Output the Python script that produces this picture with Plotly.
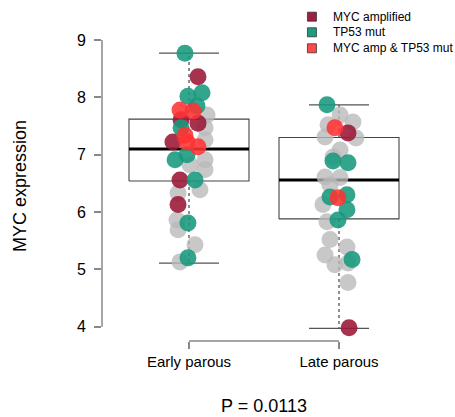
import plotly.graph_objects as go

# ---------------- data ----------------
groups = ["Early parous", "Late parous"]
group_pos = [1, 2]

q1 = [6.54, 5.88]
median = [7.10, 6.56]
q3 = [7.62, 7.30]
lower_whisker = [5.11, 3.97]
upper_whisker = [8.77, 7.87]

statuses = ["none", "MYC amplified", "TP53 mut", "MYC amp & TP53 mut"]

# Early parous samples: expression, jitter offset, status
early_y = [8.77, 8.36, 8.02, 8.08, 7.85, 7.78, 7.76, 7.69, 7.61, 7.55,
           7.47, 7.47, 7.26, 7.22, 7.34, 7.22, 7.14, 7.00, 6.91, 6.91,
           6.74, 6.82, 6.56, 6.56, 6.33, 6.39, 6.13, 5.86, 5.81, 5.69,
           5.43, 5.20, 5.13]
early_jit = [-0.027, 0.06, -0.007, 0.087, 0.053, -0.06, 0.027, 0.12, -0.053, 0.06,
             0.107, -0.053, 0.107, -0.107, -0.027, -0.013, 0.06, -0.013, -0.093, 0.107,
             0.107, 0.007, -0.06, 0.04, -0.073, 0.073, -0.073, -0.08, -0.007, -0.073,
             0.04, -0.007, -0.06]
early_status = ["TP53 mut", "MYC amplified", "TP53 mut", "TP53 mut", "TP53 mut",
                "MYC amp & TP53 mut", "MYC amp & TP53 mut", "none", "MYC amplified", "MYC amplified",
                "none", "TP53 mut", "none", "MYC amplified", "MYC amp & TP53 mut",
                "MYC amp & TP53 mut", "MYC amp & TP53 mut", "TP53 mut", "TP53 mut", "none",
                "none", "none", "MYC amplified", "TP53 mut", "none",
                "none", "MYC amplified", "none", "TP53 mut", "none",
                "none", "TP53 mut", "none"]

# Late parous samples
late_y = [7.87, 7.69, 7.57, 7.52, 7.47, 7.38, 7.31, 7.29, 7.08, 6.96,
          6.89, 6.86, 6.61, 6.60, 6.47, 6.26, 6.25, 6.30, 6.13, 6.04,
          5.86, 5.83, 5.52, 5.39, 5.25, 5.08, 5.17, 5.11, 4.77, 3.98]
late_jit = [-0.08, 0.007, 0.093, -0.073, -0.027, 0.06, -0.093, 0.113, 0.007, -0.04,
            -0.04, 0.06, -0.093, 0.007, -0.06, -0.06, -0.007, 0.053, -0.107, 0.053,
            -0.007, -0.08, -0.06, 0.053, -0.093, -0.027, 0.087, 0.06, 0.06, 0.067]
late_status = ["TP53 mut", "none", "none", "none", "MYC amp & TP53 mut",
               "MYC amplified", "none", "none", "none", "none",
               "TP53 mut", "TP53 mut", "none", "none", "none",
               "TP53 mut", "MYC amp & TP53 mut", "TP53 mut", "none", "TP53 mut",
               "TP53 mut", "none", "none", "none", "none",
               "none", "TP53 mut", "none", "none", "MYC amplified"]

y_ticks = [4, 5, 6, 7, 8, 9]
p_label = "P = 0.0113"

# ---------------- styles ----------------
colors = {
    "none": "rgba(185,185,185,0.78)",
    "MYC amplified": "rgba(155,22,52,0.88)",
    "TP53 mut": "rgba(22,152,124,0.88)",
    "MYC amp & TP53 mut": "rgba(255,50,50,0.88)",
}
legend_colors = {
    "MYC amplified": "#9E2040",
    "TP53 mut": "#1F9C80",
    "MYC amp & TP53 mut": "#FF4A4A",
}
FONT = "Liberation Sans, Arial, Helvetica, sans-serif"
BOX_HALF = 0.4
CAP_HALF = 0.2

fig = go.Figure()

# boxes
for i, pos in enumerate(group_pos):
    # box outline
    fig.add_trace(go.Scatter(
        x=[pos - BOX_HALF, pos + BOX_HALF, pos + BOX_HALF, pos - BOX_HALF, pos - BOX_HALF],
        y=[q1[i], q1[i], q3[i], q3[i], q1[i]],
        mode="lines", line=dict(color="#444444", width=1.1),
        hoverinfo="skip", showlegend=False))
    # median
    fig.add_trace(go.Scatter(
        x=[pos - BOX_HALF, pos + BOX_HALF], y=[median[i], median[i]],
        mode="lines", line=dict(color="black", width=3),
        hoverinfo="skip", showlegend=False))
    # whiskers (dashed)
    for a, b in ((q3[i], upper_whisker[i]), (q1[i], lower_whisker[i])):
        fig.add_trace(go.Scatter(
            x=[pos, pos], y=[a, b], mode="lines",
            line=dict(color="#444444", width=1.2, dash="3px,3px"),
            hoverinfo="skip", showlegend=False))
    # caps
    for w in (upper_whisker[i], lower_whisker[i]):
        fig.add_trace(go.Scatter(
            x=[pos - CAP_HALF, pos + CAP_HALF], y=[w, w], mode="lines",
            line=dict(color="#555555", width=1.2),
            hoverinfo="skip", showlegend=False))

# points
group_data = [(group_pos[0], early_y, early_jit, early_status),
              (group_pos[1], late_y, late_jit, late_status)]
for st in statuses:
    xs, ys = [], []
    for pos, yv, jv, sv in group_data:
        for yy, jj, ss in zip(yv, jv, sv):
            if ss == st:
                xs.append(pos + jj)
                ys.append(yy)
    fig.add_trace(go.Scatter(
        x=xs, y=ys, mode="markers",
        marker=dict(size=17, color=colors[st], line=dict(width=0)),
        showlegend=False, name=st))

shapes = []
# y axis line from 4 to 9
shapes.append(dict(type="line", xref="paper", yref="y", x0=0, x1=0,
                   y0=min(y_ticks), y1=max(y_ticks),
                   line=dict(color="#888888", width=1.5)))
# x axis bracket between groups
shapes.append(dict(type="line", xref="x", yref="paper", x0=group_pos[0], x1=group_pos[-1],
                   y0=0, y1=0, line=dict(color="#888888", width=1.5)))

annotations = []
# legend (manual)
leg_items = ["MYC amplified", "TP53 mut", "MYC amp & TP53 mut"]
leg_y = [1.0774, 1.0256, 0.9724]
for name, ly in zip(leg_items, leg_y):
    shapes.append(dict(type="rect", xref="paper", yref="paper",
                       xsizemode="pixel", ysizemode="pixel",
                       xanchor=0.648, yanchor=ly,
                       x0=-4.5, x1=4.5, y0=-4.5, y1=4.5,
                       fillcolor=legend_colors[name],
                       line=dict(color="#333333", width=0.8)))
    annotations.append(dict(text=name, xref="paper", yref="paper",
                            x=0.707, y=ly, xanchor="left", yanchor="middle",
                            showarrow=False, font=dict(size=12, color="black", family=FONT)))

annotations.append(dict(text="MYC expression", xref="paper", yref="paper",
                        x=-0.253, y=0.515, textangle=-90, xanchor="center", yanchor="middle",
                        showarrow=False, font=dict(size=18, color="black", family=FONT)))
annotations.append(dict(text=p_label, xref="paper", yref="paper",
                        x=0.5, y=-0.216, xanchor="center", yanchor="middle",
                        showarrow=False, font=dict(size=18, color="black", family=FONT)))

fig.update_layout(
    width=455, height=417,
    margin=dict(l=102, r=29, t=40, b=76),
    paper_bgcolor="white", plot_bgcolor="white",
    font=dict(family=FONT, color="black"),
    shapes=shapes, annotations=annotations,
    showlegend=False,
)
fig.update_xaxes(range=[0.42, 2.58], tickvals=group_pos, ticktext=groups,
                 ticks="outside", ticklen=7, tickwidth=1.5, tickcolor="#888888",
                 showline=False, showgrid=False, zeroline=False,
                 tickfont=dict(size=15, color="black"))
fig.update_yaxes(range=[3.75, 9.0], tickvals=y_ticks,
                 ticks="outside", ticklen=7, tickwidth=1.5, tickcolor="#888888",
                 ticklabelstandoff=5,
                 showline=False, showgrid=False, zeroline=False,
                 tickfont=dict(size=16, color="black"))

fig.write_html("out.html")
